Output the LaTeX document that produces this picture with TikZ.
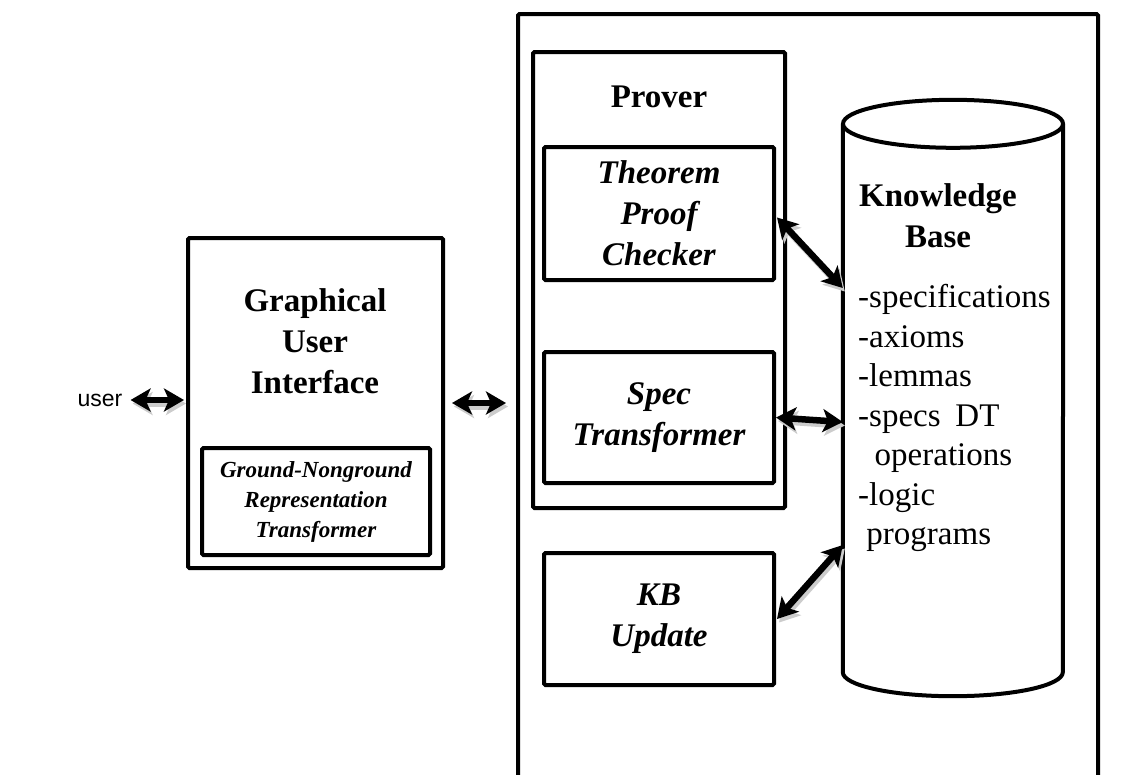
\documentclass[tikz,border=0pt]{standalone}
\usepackage{fontspec}
\setmainfont{Liberation Serif}
\newfontfamily\arialfont{Liberation Sans}
\usetikzlibrary{arrows.meta}

\begin{document}
\begin{tikzpicture}[x=1pt,y=-1pt,
				   every node/.style={inner sep=0pt, align=center, font=\fontsize{33}{41}\selectfont},
				   box/.style={draw, line width=4pt, rounded corners=1.5pt, fill=white},
				   title/.style={font=\fontsize{33}{41}\selectfont\bfseries},
				   part/.style={font=\fontsize{33}{41}\selectfont\bfseries\itshape},
				   link/.style={line width=6.5pt, {Stealth[length=20pt,width=23pt,inset=5pt]}-{Stealth[length=20pt,width=23pt,inset=5pt]}},
				   linkshade/.style={link, draw=black!20, transform canvas={shift={(2pt,-3.5pt)}}}]

\clip (0,0) rectangle (1143,774);

% system frame, open at the bottom
\node[box, minimum width=580pt, minimum height=792pt] (frame) at (808,410) {};

% prover
\node[box, minimum width=252pt, minimum height=456pt] (prover) at (659,280) {};
\node[title] (provertitle) at (659,97) {Prover};
\node[box, part, minimum width=230pt, minimum height=133pt] (tpc) at (659,213.5) {Theorem\\Proof\\Checker};
\node[box, part, minimum width=230pt, minimum height=131pt] (spec) at (659,417.5) {Spec\\Transformer};
\node[box, part, minimum width=230pt, minimum height=132pt] (kbu) at (659,619) {KB\\Update};

% knowledge base
\node[minimum width=220pt, minimum height=548pt] (kb) at (953,398) {};
\draw[line width=4pt, fill=white] (kb.north west) -- (kb.south west)
	arc[start angle=180, end angle=360, x radius=110pt, y radius=24pt] -- (kb.north east);
\draw[line width=4pt, fill=white] (kb.north) ellipse[x radius=110pt, y radius=24pt];
\node[title] (kbtitle) at (938,216) {Knowledge\\Base};
\node[anchor=west, align=left, font=\fontsize{33}{39.5}\selectfont] (kblist) at (858,418)
	{-specifications\\-axioms\\-lemmas\\-specs\hspace{0.45em}DT\\\hspace*{0.5em}operations\\-logic\\\hspace*{0.25em}programs};

% user interface
\node[box, minimum width=255pt, minimum height=330pt] (gui) at (315.5,403) {};
\node[title] (guititle) at (315,341.5) {Graphical\\User\\Interface};
\node[box, minimum width=228pt, minimum height=107pt,
      font=\fontsize{23}{30}\selectfont\bfseries\itshape] (gnr) at (316,501.5)
	{Ground-Nonground\\Representation\\Transformer};
\node[font=\arialfont\fontsize{23}{28}\selectfont] (user) at (100,400) {user};

% links
\foreach \s in {linkshade, link} {
	\draw[\s] ([xshift=8pt]user.east) -- ([xshift=-2pt]user.east -| gui.west);
	\draw[\s] ([xshift=7pt]gui.east) -- ([xshift=-10pt]gui.east -| frame.west);
	\draw[\s] ([xshift=1pt,yshift=-4pt]tpc.east) -- ([yshift=110pt]kb.west);
	\draw[\s] (spec.east) -- ([yshift=-24pt]kb.west);
	\draw[\s] ([xshift=1pt]kbu.east) -- ([yshift=-147pt]kb.west);
}

\end{tikzpicture}
\end{document}
